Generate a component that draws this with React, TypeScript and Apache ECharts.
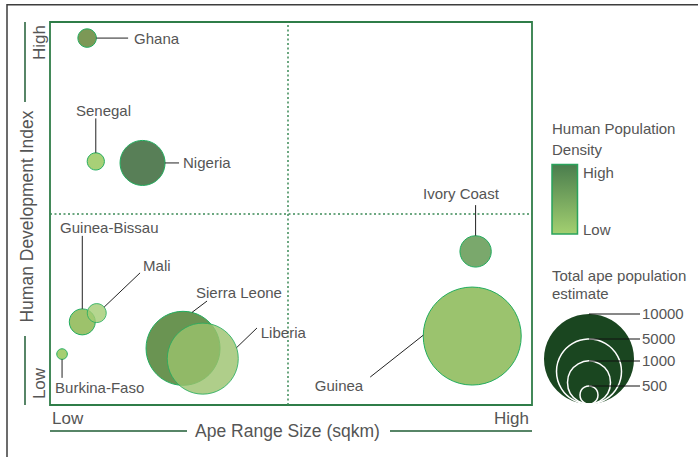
import React, { useEffect, useRef } from "react";
import * as echarts from "echarts";

// ---------------- DATA ----------------
const countries = [
  "Ghana",
  "Senegal",
  "Nigeria",
  "Guinea-Bissau",
  "Mali",
  "Burkina-Faso",
  "Sierra Leone",
  "Liberia",
  "Ivory Coast",
  "Guinea",
];
// relative position on a 0..100 scale (Low .. High)
const apeRangeSize = [7.7, 9.5, 19.2, 6.7, 9.7, 2.5, 27.6, 31.7, 88.3, 87.6];
const humanDevIndex = [95.8, 63.6, 63.2, 21.7, 24.0, 13.3, 14.8, 12.1, 40.1, 18.0];
const apePopulation = [510, 478, 1364, 660, 520, 294, 6800, 6200, 768, 11600];
const sizeLegendValues = [10000, 5000, 1000, 500];
const xTickLabels = ["Low", "High"];
const yTickLabels = ["Low", "High"];
const densityLegendLabels = ["High", "Low"];

// ---------------- STYLES ----------------
const BUBBLE_COLORS = [
  "#7c9856",
  "#a8d077",
  "#587f57",
  "#9dc26b",
  "#a3cc73",
  "#a5cf72",
  "#6a9452",
  "#9bc26d",
  "#7aa86c",
  "#9bc36e",
];
const BUBBLE_OPACITY = [1, 1, 1, 1, 0.8, 1, 1, 0.8, 1, 1];
// radius scale of the size legend (value -> px)
const SIZE_STOPS: [number, number][] = [
  [0, 0],
  [500, 9],
  [1000, 21.5],
  [5000, 32.5],
  [10000, 45],
];
function radiusOf(v: number): number {
  for (let i = 1; i < SIZE_STOPS.length; i++) {
    const [v0, r0] = SIZE_STOPS[i - 1];
    const [v1, r1] = SIZE_STOPS[i];
    if (v <= v1 || i === SIZE_STOPS.length - 1) {
      return r0 + ((v - v0) / (v1 - v0)) * (r1 - r0);
    }
  }
  return 0;
}
// label layout: start angle on bubble edge, line end offset, text offset (px)
const LABEL_LAYOUT = [
  { a: 0, ex: 41, ey: 0, tx: 47, ty: 0, align: "left" },
  { a: -90, ex: 0, ey: -43, tx: 7.7, ty: -51, align: "center" },
  { a: 0, ex: 36.5, ey: 0, tx: 40.5, ty: 0, align: "left" },
  { a: -90, ex: 0, ey: -86, tx: 27, ty: -94, align: "center" },
  { a: -39, ex: 43.3, ey: -40.2, tx: 46.3, ty: -47.2, align: "left" },
  { a: 90, ex: 0, ey: 23.8, tx: -7, ty: 33.8, align: "left" },
  { a: -76, ex: 24, ey: -47.3, tx: 13, ty: -56.3, align: "left" },
  { a: -18, ex: 54.2, ey: -30.7, tx: 58, ty: -26.5, align: "left" },
  { a: -90, ex: 0, ey: -46.3, tx: -14.7, ty: -58.3, align: "center" },
  { a: 181, ex: -102, ey: 41, tx: -109, ty: 49, align: "right" },
];

const FONT = "Liberation Sans, Arial, sans-serif";
const TEXT = "#555555";
const GRID = { left: 50, top: 22, width: 482, height: 383 };

function txt(text: string, x: number, y: number, size: number, align = "left", extra: any = {}) {
  return {
    type: "text",
    x,
    y,
    silent: true,
    ...extra,
    style: {
      text,
      x: 0,
      y: 0,
      fill: TEXT,
      fontSize: size,
      fontFamily: FONT,
      align,
      verticalAlign: "middle",
      textAlign: align,
      textVerticalAlign: "middle",
    },
  };
}

export default function App() {
  const ref = useRef<HTMLDivElement>(null);
  useEffect(() => {
    if (!ref.current) return;
    const chart = echarts.init(ref.current, null, { renderer: "svg" });

    const scatterData = countries.map((name, i) => ({
      name,
      value: [apeRangeSize[i], humanDevIndex[i], apePopulation[i]],
      itemStyle: { color: BUBBLE_COLORS[i], opacity: BUBBLE_OPACITY[i] },
    }));

    const legendCx = 589;
    const legendBottom = 404;
    const sizeLegend: any[] = [];
    sizeLegendValues.forEach((v, i) => {
      const r = radiusOf(v);
      sizeLegend.push({
        type: "circle",
        silent: true,
        shape: { cx: legendCx, cy: legendBottom - r, r },
        style:
          i === 0
            ? { fill: "#1a4620", stroke: "none" }
            : { fill: "none", stroke: "#ffffff", lineWidth: 1.5 },
      });
    });
    sizeLegendValues.forEach((v) => {
      const r = radiusOf(v);
      const y = legendBottom - 2 * r;
      sizeLegend.push({
        type: "line",
        silent: true,
        shape: { x1: legendCx, y1: y, x2: 640, y2: y },
        style: { stroke: "#111", lineWidth: 1 },
      });
      sizeLegend.push(txt(String(v), 642, y - 1, 15));
    });

    const option: any = {
      animation: false,
      backgroundColor: "#ffffff",
      grid: {
        ...GRID,
        show: true,
        borderColor: "#2f7d48",
        borderWidth: 1.8,
        backgroundColor: "transparent",
      },
      xAxis: { type: "value", min: 0, max: 100, show: false },
      yAxis: { type: "value", min: 0, max: 100, show: false },
      series: [
        {
          type: "scatter",
          data: scatterData,
          symbolSize: (val: number[]) => 2 * radiusOf(val[2]),
          itemStyle: { borderColor: "#22ad5f", borderWidth: 1 },
          emphasis: { disabled: true },
          markLine: {
            silent: true,
            symbol: "none",
            label: { show: false },
            lineStyle: { type: [2, 2.5], color: "#3b8a57", width: 1.5 },
            data: [{ xAxis: 49.4 }, { yAxis: 50 }],
          },
          z: 2,
        },
        {
          type: "custom",
          data: countries.map((n, i) => [apeRangeSize[i], humanDevIndex[i], apePopulation[i]]),
          clip: false,
          z: 5,
          silent: true,
          renderItem: (params: any, api: any) => {
            const i = params.dataIndex;
            const c = api.coord([api.value(0), api.value(1)]);
            const r = radiusOf(api.value(2));
            const L = LABEL_LAYOUT[i];
            const ang = (L.a * Math.PI) / 180;
            const sx = c[0] + r * Math.cos(ang);
            const sy = c[1] + r * Math.sin(ang);
            return {
              type: "group",
              children: [
                {
                  type: "line",
                  shape: { x1: sx, y1: sy, x2: c[0] + L.ex, y2: c[1] + L.ey },
                  style: { stroke: "#222", lineWidth: 1 },
                },
                {
                  type: "text",
                  style: {
                    text: countries[i],
                    x: c[0] + L.tx,
                    y: c[1] + L.ty,
                    fill: TEXT,
                    fontSize: 15,
                    fontFamily: FONT,
                    align: L.align,
                    verticalAlign: "middle",
                    textAlign: L.align,
                    textVerticalAlign: "middle",
                  },
                },
              ],
            };
          },
        },
      ],
      graphic: [
        // outer frame
        {
          type: "polyline",
          silent: true,
          shape: { points: [[7, 460], [7, 4.75], [700, 4.75]] },
          style: { stroke: "#3d3d3d", lineWidth: 1.5, fill: "none" },
        },
        // x axis title lines
        {
          type: "line",
          silent: true,
          shape: { x1: 50, y1: 431, x2: 187, y2: 431 },
          style: { stroke: "#1f5c34", lineWidth: 1.5 },
        },
        {
          type: "line",
          silent: true,
          shape: { x1: 390, y1: 431, x2: 532, y2: 431 },
          style: { stroke: "#1f5c34", lineWidth: 1.5 },
        },
        // y axis title lines
        {
          type: "line",
          silent: true,
          shape: { x1: 25, y1: 22, x2: 25, y2: 102 },
          style: { stroke: "#1f5c34", lineWidth: 1.5 },
        },
        {
          type: "line",
          silent: true,
          shape: { x1: 25, y1: 336, x2: 25, y2: 405 },
          style: { stroke: "#1f5c34", lineWidth: 1.5 },
        },
        txt(xTickLabels[0], 52, 418, 17, "left"),
        txt(xTickLabels[1], 529, 418, 17, "right"),
        txt("Ape Range Size (sqkm)", 287.5, 431, 17.5, "center"),
        txt("Human Development Index", 26.5, 216.5, 17.5, "center", { rotation: Math.PI / 2 }),
        txt(yTickLabels[1], 39, 42.5, 17, "center", { rotation: Math.PI / 2 }),
        txt(yTickLabels[0], 39, 383.5, 17, "center", { rotation: Math.PI / 2 }),
        // density legend
        txt("Human Population", 552, 128.5, 15),
        txt("Density", 552, 149, 15),
        {
          type: "rect",
          silent: true,
          shape: { x: 552, y: 164.5, width: 25.5, height: 69.5 },
          style: {
            fill: new echarts.graphic.LinearGradient(0, 0, 0, 1, [
              { offset: 0, color: "#4a7d4d" },
              { offset: 1, color: "#a3d070" },
            ]),
            stroke: "#2aa35c",
            lineWidth: 1.5,
          },
        },
        txt(densityLegendLabels[0], 583, 172, 15),
        txt(densityLegendLabels[1], 583, 229, 15),
        // size legend
        txt("Total ape population", 552, 275, 15),
        txt("estimate", 552, 293.5, 15),
        ...sizeLegend,
      ],
    };
    chart.setOption(option);
    return () => chart.dispose();
  }, []);
  return (
    <div
      ref={ref}
      style={{ position: "fixed", left: 0, top: 0, width: 698, height: 457, background: "#fff" }}
    />
  );
}
